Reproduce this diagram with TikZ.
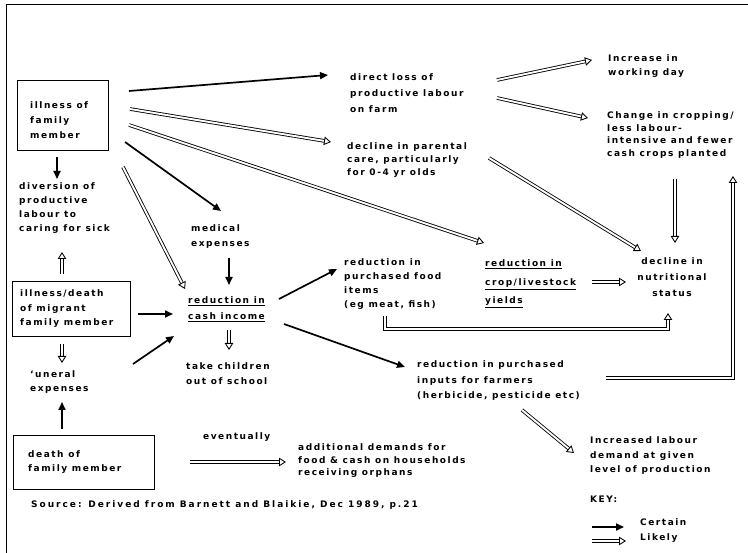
\documentclass[tikz,border=0pt]{standalone}
\usepackage{fontspec}
\setmainfont{DejaVu Sans}[LetterSpace=17]
\usetikzlibrary{arrows.meta}
\tikzset{
  txt/.style={inner sep=0pt, anchor=base west, align=left, font=\bfseries\fontsize{9}{#1}\selectfont},
  txt/.default=15,
  ctxt/.style={inner sep=0pt, anchor=base, align=center, font=\bfseries\fontsize{9}{#1}\selectfont},
  ctxt/.default=15,
  box/.style={draw, line width=0.9pt, inner sep=0pt, anchor=north west},
  certain/.style={line width=1.7pt, -{Triangle[length=8pt,width=7pt]}},
  likely/.style={double, double distance=1.9pt, line width=0.85pt, line join=miter, -{Triangle[open,length=7pt,width=8.5pt]}},
}
\begin{document}
\begin{tikzpicture}[x=1pt,y=-1pt]
\useasboundingbox (0,0) rectangle (748,553);
% frame
\coordinate (fr1) at (6,5);
\coordinate (fr2) at (748,5);
\coordinate (fr3) at (6,553);
\draw[line width=1pt] (fr2) -- (fr1) -- (fr3);

% boxes
\node[box, minimum width=91pt, minimum height=70pt] (illnessbox) at (17,80) {};
\node[box, minimum width=118pt, minimum height=55pt] (migrantbox) at (12,281) {};
\node[box, minimum width=141pt, minimum height=54pt] (deathbox) at (13,435) {};

% texts (anchored at the baseline of the last line)
\node[txt=15] (illness) at (30,139) {illness of\\family\\member};
\node[txt=14] (diversion) at (19,232) {diversion of\\productive\\labour to\\caring for sick};
\node[txt=14.5] (migrant) at (20,326) {illness/death\\of migrant\\family member};
\node[txt=13.5] (funeral) at (30,391.5) {\textquoteleft uneral\\expenses};
\node[txt=13.5] (death) at (28,471.5) {death of\\family member};
\node[txt] (eventually) at (203,440) {eventually};
\node[txt=12.5] (orphans) at (298,476) {additional demands for\\food \& cash on households\\receiving orphans};
\node[txt, font=\bfseries\fontsize{9}{15}\addfontfeature{LetterSpace=22}] (source) at (31,508) {Source: Derived from Barnett and Blaikie, Dec 1989, p.21};
\node[txt=15] (medical) at (191,247) {medical\\expenses};
\node[txt=16] (cash) at (188,320) {\underline{reduction in}\\\underline{cash income}};
\node[txt=15] (school) at (186,385) {take children\\out of school};
\node[txt=16] (direct) at (350,113) {direct loss of\\productive labour\\on farm};
\node[txt=13] (parental) at (347,176) {decline in parental\\care, particularly\\for 0-4 yr olds};
\node[txt=14] (food) at (344,308) {reduction in\\purchased food\\items\\(eg meat, fish)};
\node[txt=15.5] (inputs) at (417,399) {reduction in purchased\\inputs for farmers\\(herbicide, pesticide etc)};
\node[txt=14.5] (labour) at (590,473) {Increased labour\\demand at given\\level of production};
\node[txt] (key) at (590,503) {KEY:};
\node[txt] (certain) at (640,526) {Certain};
\node[txt] (likely) at (640,540) {Likely};
\node[txt=18.5] (crop) at (485,304) {\underline{reduction in}\\\underline{crop/livestock}\\\underline{yields}};
\node[ctxt=16] (nutri) at (672,297) {decline in\\nutritional\\status};
\node[txt=14] (increase) at (608,76) {Increase in\\working day};
\node[txt=12.5] (change) at (607,156.5) {Change in cropping/\\less labour-\\intensive and fewer\\cash crops planted};

% connector end points
\coordinate (a1s) at (57,157);  \coordinate (a1e) at (57,179);
\coordinate (a2s) at (62,274);  \coordinate (a2e) at (62,252);
\coordinate (a3s) at (62,344);  \coordinate (a3e) at (62,363);
\coordinate (a4s) at (62,429);  \coordinate (a4e) at (62,402);
\coordinate (a5s) at (190,462); \coordinate (a5e) at (286,462);
\coordinate (a6s) at (138,314); \coordinate (a6e) at (173,314);
\coordinate (a7s) at (133,364); \coordinate (a7e) at (174,336);
\coordinate (a8s) at (129,91);  \coordinate (a8e) at (328,75);
\coordinate (a9s) at (130,109); \coordinate (a9e) at (331,142);
\coordinate (a10s) at (129,125); \coordinate (a10e) at (484,243);
\coordinate (a11s) at (125,142); \coordinate (a11e) at (221,211);
\coordinate (a12s) at (123,167); \coordinate (a12e) at (185,289);
\coordinate (a13s) at (229,258); \coordinate (a13e) at (229,285);
\coordinate (a14s) at (229,330); \coordinate (a14e) at (229,350);
\coordinate (a15s) at (279,299); \coordinate (a15e) at (337,269);
\coordinate (a16s) at (284,324); \coordinate (a16e) at (405,367);
\coordinate (a17s) at (522,410); \coordinate (a17e) at (574,453);
\coordinate (a18s) at (592,282); \coordinate (a18e) at (626,282);
\coordinate (a19s) at (385,316); \coordinate (a19a) at (385,329); \coordinate (a19b) at (668,329); \coordinate (a19e) at (668,313);
\coordinate (a20s) at (675,179); \coordinate (a20e) at (675,243);
\coordinate (a21s) at (489,158); \coordinate (a21e) at (641,251);
\coordinate (a22s) at (497,80);  \coordinate (a22e) at (592,60);
\coordinate (a23s) at (497,98);  \coordinate (a23e) at (588,118);
\coordinate (a24s) at (606,378); \coordinate (a24a) at (733,378); \coordinate (a24e) at (733,176);
\coordinate (k1s) at (592,527); \coordinate (k1e) at (624,527);
\coordinate (k2s) at (592,541); \coordinate (k2e) at (626,541);

% certain
\draw[certain] (a1s) -- (a1e);
\draw[certain] (a4s) -- (a4e);
\draw[certain] (a6s) -- (a6e);
\draw[certain] (a7s) -- (a7e);
\draw[certain] (a8s) -- (a8e);
\draw[certain] (a11s) -- (a11e);
\draw[certain] (a13s) -- (a13e);
\draw[certain] (a15s) -- (a15e);
\draw[certain] (a16s) -- (a16e);
\draw[certain] (k1s) -- (k1e);

% likely
\draw[likely] (a2s) -- (a2e);
\draw[likely] (a3s) -- (a3e);
\draw[likely] (a5s) -- (a5e);
\draw[likely] (a9s) -- (a9e);
\draw[likely] (a10s) -- (a10e);
\draw[likely] (a12s) -- (a12e);
\draw[likely] (a14s) -- (a14e);
\draw[likely] (a17s) -- (a17e);
\draw[likely] (a18s) -- (a18e);
\draw[likely] (a19s) -- (a19a) -- (a19b) -- (a19e);
\draw[likely] (a20s) -- (a20e);
\draw[likely] (a21s) -- (a21e);
\draw[likely] (a22s) -- (a22e);
\draw[likely] (a23s) -- (a23e);
\draw[likely] (a24s) -- (a24a) -- (a24e);
\draw[likely] (k2s) -- (k2e);
\end{tikzpicture}
\end{document}
